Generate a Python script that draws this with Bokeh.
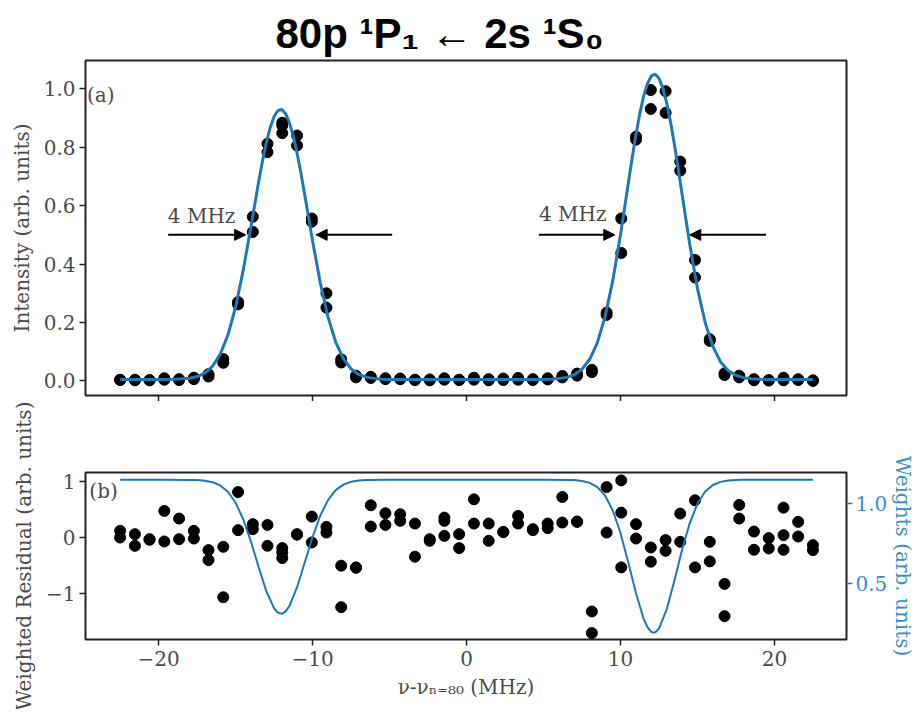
from bokeh.plotting import figure
from bokeh.models import (Range1d, LinearAxis, FixedTicker, CustomJSTickFormatter,
                          Label, Arrow, NormalHead)
from bokeh.layouts import column
from bokeh.embed import file_html
from bokeh.resources import INLINE

# ---------------- data ----------------
freq = [-22.50, -21.54, -20.59, -19.63, -18.67, -17.71, -16.76, -15.80, -14.84, -13.88,
        -12.93, -11.97, -11.01, -10.05, -9.10, -8.14, -7.18, -6.22, -5.27, -4.31,
        -3.35, -2.39, -1.44, -0.48, 0.48, 1.44, 2.39, 3.35, 4.31, 5.27,
        6.22, 7.18, 8.14, 9.10, 10.05, 11.01, 11.97, 12.93, 13.88, 14.84,
        15.80, 16.76, 17.71, 18.67, 19.63, 20.59, 21.54, 22.50]

intensity_a = [0.003, 0.002, 0.003, 0.009, 0.006, 0.011, 0.023, 0.075, 0.270, 0.562,
               0.812, 0.884, 0.840, 0.556, 0.300, 0.074, 0.018, 0.014, 0.009, 0.008,
               0.003, 0.002, 0.009, 0.004, 0.011, 0.006, 0.008, 0.010, 0.006, 0.009,
               0.017, 0.025, 0.038, 0.234, 0.556, 0.836, 0.996, 0.992, 0.751, 0.414,
               0.143, 0.026, 0.018, 0.006, 0.003, 0.011, 0.006, 0.002]
intensity_b = [0.004, 0.004, 0.002, 0.004, 0.003, 0.006, 0.015, 0.062, 0.262, 0.510,
               0.783, 0.848, 0.806, 0.545, 0.251, 0.063, 0.012, 0.010, 0.006, 0.006,
               0.004, 0.005, 0.004, 0.003, 0.004, 0.002, 0.003, 0.004, 0.003, 0.005,
               0.012, 0.018, 0.030, 0.226, 0.438, 0.826, 0.931, 0.918, 0.720, 0.354,
               0.137, 0.020, 0.012, 0.002, 0.001, 0.002, 0.003, 0.000]
intensity_extra_x = [-11.97]
intensity_extra_y = [0.874]

fit_x = [-22.5, -21, -20, -19, -18.5, -18, -17.5, -17, -16.5, -16, -15.5, -15, -14.5, -14,
         -13.5, -13.25, -13, -12.75, -12.5, -12.25, -12, -11.75, -11.5, -11.25, -11,
         -10.75, -10.5, -10, -9.5, -9, -8.5, -8, -7.5, -7, -6.5, -6, -5.5, -5, -3, 0, 3,
         5, 5.5, 6, 6.5, 7, 7.5, 8, 8.5, 9, 9.5, 10, 10.5, 10.75, 11, 11.25, 11.5, 11.75,
         12, 12.25, 12.5, 12.75, 13, 13.25, 13.5, 13.75, 14, 14.5, 15, 15.5, 16, 16.5,
         17, 17.5, 18, 18.5, 19, 20, 21, 22.5]
fit_y = [0.005, 0.005, 0.005, 0.006, 0.007, 0.009, 0.015, 0.027, 0.050, 0.091, 0.157,
         0.253, 0.380, 0.529, 0.683, 0.754, 0.817, 0.868, 0.905, 0.926, 0.929, 0.915,
         0.883, 0.837, 0.778, 0.709, 0.634, 0.479, 0.336, 0.219, 0.133, 0.076, 0.041,
         0.022, 0.013, 0.008, 0.006, 0.005, 0.005, 0.005, 0.005, 0.005, 0.006, 0.008,
         0.012, 0.021, 0.040, 0.074, 0.131, 0.220, 0.344, 0.500, 0.674, 0.761, 0.842,
         0.914, 0.974, 1.018, 1.044, 1.050, 1.036, 1.002, 0.952, 0.886, 0.810, 0.726,
         0.639, 0.467, 0.316, 0.200, 0.118, 0.065, 0.035, 0.019, 0.011, 0.007, 0.006,
         0.005, 0.005, 0.005]

residual_a = [0.119, 0.060, -0.030, 0.474, 0.338, 0.119, -0.225, -0.166, 0.812, 0.238,
              0.225, -0.189, 0.060, 0.373, 0.190, -0.503, -0.533, 0.575, 0.433, 0.415,
              0.249, -0.030, 0.355, 0.060, 0.682, 0.249, 0.101, 0.385, 0.149, 0.249,
              0.723, 0.279, -1.320, 0.900, 1.019, 0.238, -0.178, -0.046, 0.427, 0.664,
              -0.077, -0.828, 0.581, 0.107, -0.011, 0.533, 0.279, -0.136]
residual_b = [0.000, -0.148, -0.040, -0.071, -0.030, -0.018, -0.402, -1.066, 0.131, 0.149,
              -0.148, -0.367, 0.050, -0.089, 0.089, -1.243, -0.540, 0.195, 0.225, 0.297,
              -0.343, -0.059, 0.297, -0.189, 0.249, -0.059, 0.095, 0.249, 0.131, 0.167,
              0.267, 0.285, -1.705, 0.089, 0.444, -0.018, -0.432, -0.237, -0.077, -0.533,
              -0.426, -1.403, 0.338, -0.219, -0.195, 0.042, 0.018, -0.225]
residual_extra_x = [-11.97, -1.44, 10.05, 20.59]
residual_extra_y = [-0.266, 0.030, -0.533, -0.219]

weights_x = [-22.5, -20, -18, -17.5, -17, -16.5, -16, -15.5, -15, -14.5, -14, -13.5, -13,
             -12.5, -12.25, -12, -11.75, -11.5, -11, -10.5, -10, -9.5, -9, -8.5, -8, -7.5,
             -7, -6.5, -5, 0, 5, 6.5, 7, 7.5, 8, 8.5, 9, 9.5, 10, 10.5, 11, 11.5, 11.75,
             12, 12.15, 12.3, 12.5, 13, 13.5, 14, 14.5, 15, 15.5, 16, 16.5, 17, 17.5, 18,
             20, 22.5]
weights_y = [1.144, 1.144, 1.143, 1.142, 1.138, 1.129, 1.109, 1.070, 1.002, 0.899, 0.761,
             0.603, 0.454, 0.348, 0.322, 0.315, 0.330, 0.364, 0.481, 0.635, 0.790, 0.922,
             1.018, 1.080, 1.114, 1.132, 1.139, 1.142, 1.144, 1.144, 1.144, 1.143, 1.142,
             1.137, 1.125, 1.099, 1.046, 0.954, 0.815, 0.636, 0.445, 0.285, 0.232, 0.203,
             0.198, 0.203, 0.224, 0.342, 0.520, 0.711, 0.876, 0.996, 1.071, 1.112, 1.131,
             1.140, 1.143, 1.144, 1.144, 1.144]

x_ticks = [-20, -10, 0, 10, 20]
intensity_ticks = [0.0, 0.2, 0.4, 0.6, 0.8, 1.0]
residual_ticks = [-1, 0, 1]
weight_ticks = [0.5, 1.0]

# FWHM annotations
fwhm_text = ["4 MHz", "4 MHz"]
fwhm_text_x = [-19.4, 4.7]
fwhm_text_y = [0.525, 0.531]
arrow_left_start = [-19.38, 4.70]
arrow_left_end = [-14.35, 9.63]
arrow_right_start = [-4.83, 19.45]
arrow_right_end = [-9.77, 14.50]
arrow_y = [0.50, 0.50]

TITLE = "80p \u00b9P\u2081 \u2190 2s \u00b9S\u2080"

# ---------------- style ----------------
SERIF = "DejaVu Serif"
GREY = "#4a4a4a"
BLUE = "#1f77b4"
BLUE_TXT = "#3a8ccf"
FS = "20px"
DOT = 11

fmt_one = CustomJSTickFormatter(code="return tick.toFixed(1);")
fmt_int = CustomJSTickFormatter(code="return (tick < 0 ? '\u2212' : '') + Math.abs(tick).toFixed(0);")
fmt_none = CustomJSTickFormatter(code="return '';")

x_range = Range1d(-24.75, 24.68)


def style_axis(ax, color=GREY, tick_color="#222222"):
    ax.axis_line_color = None
    ax.major_tick_in = 0
    ax.major_tick_out = 6
    ax.major_tick_line_width = 1.5
    ax.major_tick_line_color = tick_color
    ax.minor_tick_line_color = None
    ax.major_label_text_font = SERIF
    ax.major_label_text_font_size = FS
    ax.major_label_text_color = color
    ax.axis_label_text_font = SERIF
    ax.axis_label_text_font_size = FS
    ax.axis_label_text_font_style = "normal"
    ax.axis_label_text_color = color


# ---------------- top panel ----------------
p1 = figure(frame_width=761, frame_height=335, x_range=x_range,
            y_range=Range1d(-0.05, 1.097), output_backend="svg", toolbar_location=None,
            min_border_left=85, min_border_right=63, min_border_top=60, min_border_bottom=0,
            background_fill_color="white", border_fill_color="white")
p1.title.text = TITLE
p1.title.text_font = "Liberation Sans"
p1.title.text_font_size = "42px"
p1.title.text_font_style = "bold"
p1.title.text_color = "black"
p1.title.align = "left"
p1.title.offset = 190
p1.title.standoff = 7
p1.outline_line_color = "#222222"
p1.outline_line_width = 2
p1.grid.visible = False

p1.xaxis.ticker = FixedTicker(ticks=x_ticks)
p1.xaxis.formatter = fmt_none
p1.xaxis.major_label_standoff = 0
p1.yaxis.ticker = FixedTicker(ticks=intensity_ticks)
p1.yaxis.formatter = fmt_one
p1.yaxis.axis_label = "Intensity (arb. units)"
p1.yaxis.major_label_standoff = 4
p1.yaxis.axis_label_standoff = 7
for ax in p1.xaxis + p1.yaxis:
    style_axis(ax)

p1.scatter(freq, intensity_a, size=DOT, color="black")
p1.scatter(freq, intensity_b, size=DOT, color="black")
p1.scatter(intensity_extra_x, intensity_extra_y, size=DOT, color="black")
p1.line(fit_x, fit_y, line_color=BLUE, line_width=3)

p1.add_layout(Label(x=-24.65, y=0.98, text="(a)", text_font=SERIF, text_font_size=FS,
                    text_color=GREY, text_baseline="middle"))
for i in range(len(fwhm_text)):
    p1.add_layout(Label(x=fwhm_text_x[i], y=fwhm_text_y[i], text=fwhm_text[i],
                        text_font=SERIF, text_font_size=FS, text_color=GREY,
                        text_baseline="bottom"))
    p1.add_layout(Arrow(x_start=arrow_left_start[i], y_start=arrow_y[i],
                        x_end=arrow_left_end[i], y_end=arrow_y[i], line_width=2,
                        end=NormalHead(size=11, fill_color="black", line_color="black")))
    p1.add_layout(Arrow(x_start=arrow_right_start[i], y_start=arrow_y[i],
                        x_end=arrow_right_end[i], y_end=arrow_y[i], line_width=2,
                        end=NormalHead(size=11, fill_color="black", line_color="black")))

# ---------------- bottom panel ----------------
p2 = figure(frame_width=761, frame_height=167, x_range=x_range,
            y_range=Range1d(-1.82, 1.16), output_backend="svg", toolbar_location=None,
            min_border_left=85, min_border_right=63, min_border_top=71, min_border_bottom=70,
            background_fill_color="white", border_fill_color="white")
p2.extra_y_ranges = {"w": Range1d(0.156, 1.189)}
p2.outline_line_color = "#222222"
p2.outline_line_width = 2
p2.grid.visible = False

p2.xaxis.ticker = FixedTicker(ticks=x_ticks)
p2.xaxis.formatter = fmt_int
p2.xaxis.axis_label = "\u03bd-\u03bd\u2099\u208c\u2088\u2080 (MHz)"
p2.xaxis.major_label_standoff = 5
p2.xaxis.axis_label_standoff = 6
p2.yaxis.ticker = FixedTicker(ticks=residual_ticks)
p2.yaxis.formatter = fmt_int
p2.yaxis.axis_label = "Weighted Residual (arb. units)"
p2.yaxis.major_label_standoff = 4
p2.yaxis.axis_label_standoff = 7
for ax in p2.xaxis + p2.yaxis:
    style_axis(ax)

wax = LinearAxis(y_range_name="w", ticker=FixedTicker(ticks=weight_ticks),
                 formatter=fmt_one, axis_label="Weights (arb. units)")
style_axis(wax, color=BLUE_TXT, tick_color=BLUE)
wax.major_label_standoff = 3
wax.axis_label_standoff = 1
p2.add_layout(wax, "right")

p2.scatter(freq, residual_a, size=DOT, color="black")
p2.scatter(freq, residual_b, size=DOT, color="black")
p2.scatter(residual_extra_x, residual_extra_y, size=DOT, color="black")
p2.line(weights_x, weights_y, y_range_name="w", line_color=BLUE, line_width=2)

p2.add_layout(Label(x=-24.5, y=0.83, text="(b)", text_font=SERIF, text_font_size=FS,
                    text_color=GREY, text_baseline="middle"))

layout = column(p1, p2, spacing=0)
open("out.html", "w").write(file_html(layout, INLINE))
